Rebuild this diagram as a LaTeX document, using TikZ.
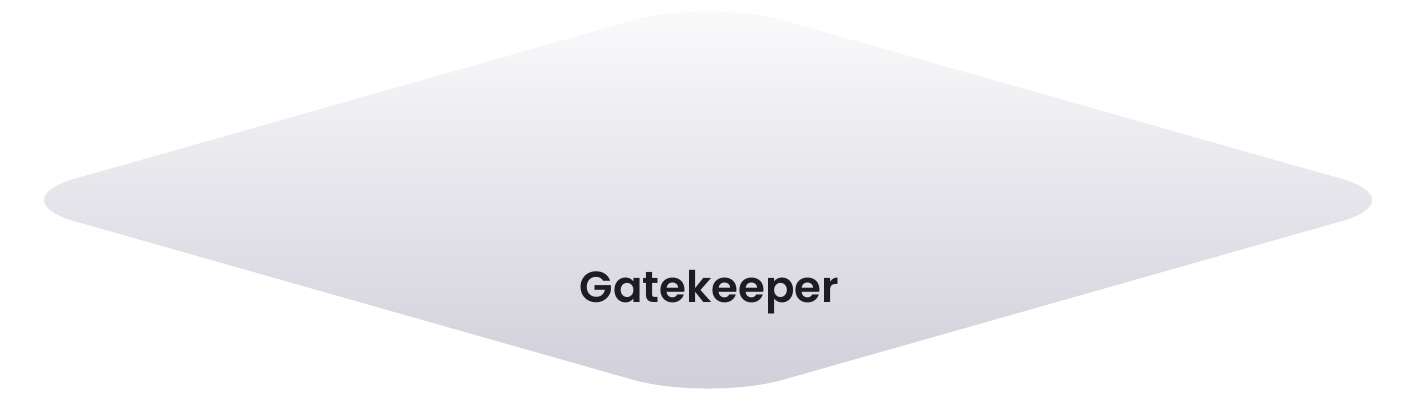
\documentclass[tikz,border=0pt]{standalone}
\usepackage{fontspec}
\setmainfont{Poppins}[BoldFont={Poppins SemiBold}]
\usepackage{tikz}
\usetikzlibrary{positioning, calc}
\definecolor{gatetop}{HTML}{FBFBFC}
\definecolor{gatebottom}{HTML}{CFCED9}
\definecolor{gatetext}{HTML}{1D1C22}
\tikzset{gate/.style = {rounded corners=78pt, top color=gatetop, bottom color=gatebottom, draw=none},
         label/.style = {font=\bfseries\fontsize{43.5}{52}\selectfont, text=gatetext, inner sep=0pt}}

\begin{document}
\begin{tikzpicture}[x=1pt, y=1pt]
    \useasboundingbox (0,0) rectangle (1416,400);
    \coordinate (west) at (0,200);
    \coordinate (north) at (708,401);
    \coordinate (east) at (1416,200);
    \coordinate (south) at (708,-1);
    \path[gate] ($(west)!0.5!(north)$) -- (north) -- (east) -- (south) -- (west) -- cycle;
    \node[label, anchor=base] (gatekeeper) at (709.5,97.5) {Gatekeeper};
\end{tikzpicture}
\end{document}
